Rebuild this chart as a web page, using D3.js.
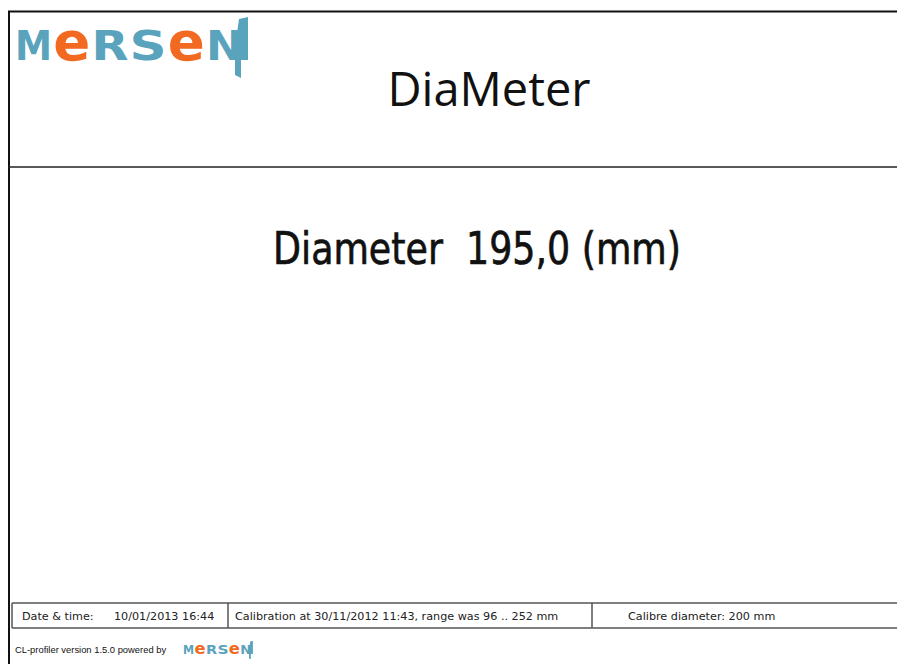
<!DOCTYPE html>
<html>
<head>
<meta charset="utf-8">
<script src="https://cdn.jsdelivr.net/npm/d3@7"></script>
<style>
    body { margin: 0; background: #fff; }
    svg { display: block; }
</style>
</head>
<body>
<div id="report"></div>
<script>
    // report content
    var reportTitle = ["DiaMeter"];
    var measureLabels = ["Diameter"];
    var measureValues = [195.0];
    var measureUnits = ["mm"];
    var infoLabels = ["Date & time:", "", ""];
    var infoValues = ["10/01/2013 16:44",
        "Calibration at 30/11/2012 11:43, range was 96 .. 252 mm",
        "Calibre diameter: 200 mm"];
    var footerText = ["CL-profiler version 1.5.0 powered by"];
    var logoLetters = ["M", "e", "R", "S", "e", "N"];
    var logoColors = ["#5aa3bd", "#f26a21", "#5aa3bd", "#5aa3bd", "#f26a21", "#5aa3bd"];

    var width = 897, height = 664;

    var svg = d3.select("#report").append("svg")
        .attr("width", width)
        .attr("height", height);

    // frame
    svg.append("line").attr("x1", 9).attr("x2", 9).attr("y1", 11).attr("y2", height)
        .attr("stroke", "#111").attr("stroke-width", 2);
    svg.append("line").attr("x1", 8).attr("x2", width).attr("y1", 11.5).attr("y2", 11.5)
        .attr("stroke", "#111").attr("stroke-width", 2);
    svg.append("line").attr("x1", 8).attr("x2", width).attr("y1", 167).attr("y2", 167)
        .attr("stroke", "#222").attr("stroke-width", 1.5);

    // logo, drawn in a 233 x 61 box
    var letterX = d3.scaleBand().domain(d3.range(logoLetters.length)).range([0, 228]).paddingInner(0.03);

    function drawLogo(g) {
        var cell = g.selectAll("g.letter")
            .data(logoLetters)
            .join("g")
            .attr("class", "letter");
        var txt = cell.append("text")
            .attr("x", 0)
            .attr("y", 0)
            .attr("text-anchor", "middle")
            .attr("font-family", "DejaVu Sans")
            .attr("font-weight", "bold")
            .attr("font-size", function(d) { return d === "e" ? 54 : 40; })
            .attr("fill", function(d, i) { return logoColors[i]; })
            .text(function(d) { return d; });
        txt.each(function(d, i) {
            var w = this.getComputedTextLength();
            var sx = (letterX.bandwidth()) / w;
            d3.select(this.parentNode).attr("transform",
                "translate(" + (letterX(i) + letterX.bandwidth() / 2) + ",43) scale(" + sx + ",1)");
        });
        // long stroke of the N
        g.append("path")
            .attr("d", "M224,2 L233,0 L233,43 L226,43 L226,61 L220,58 L220,30 Z")
            .attr("fill", logoColors[5]);
    }

    drawLogo(svg.append("g").attr("transform", "translate(15,17)"));

    svg.append("text")
        .attr("x", 489).attr("y", 106)
        .attr("text-anchor", "middle")
        .attr("font-family", "Open Sans")
        .attr("font-size", 47)
        .attr("fill", "#111")
        .text(reportTitle[0]);

    var fmt = function(v) { return d3.format(".1f")(v).replace(".", ","); };

    svg.append("text")
        .attr("x", 477).attr("y", 264)
        .attr("text-anchor", "middle")
        .attr("font-family", "DejaVu Sans")
        .attr("font-size", 44)
        .attr("textLength", 408)
        .attr("lengthAdjust", "spacingAndGlyphs")
        .attr("fill", "#111")
        .attr("stroke", "#111")
        .attr("stroke-width", 0.7)
        .attr("xml:space", "preserve")
        .text(measureLabels[0] + "  " + fmt(measureValues[0]) + " (" + measureUnits[0] + ")");

    // info table
    var cells = [12, 228, 592, width];
    var tableTop = 603, tableBottom = 628;
    var tbl = svg.append("g");
    tbl.append("line").attr("x1", cells[0]).attr("x2", width).attr("y1", tableTop).attr("y2", tableTop)
        .attr("stroke", "#555").attr("stroke-width", 1.5);
    tbl.append("line").attr("x1", cells[0]).attr("x2", width).attr("y1", tableBottom).attr("y2", tableBottom)
        .attr("stroke", "#555").attr("stroke-width", 1.5);
    tbl.selectAll("line.div")
        .data(cells.slice(0, 3))
        .join("line")
        .attr("class", "div")
        .attr("x1", function(d) { return d; }).attr("x2", function(d) { return d; })
        .attr("y1", tableTop).attr("y2", tableBottom)
        .attr("stroke", "#555").attr("stroke-width", 1.5);

    var labelX = [22, 0, 0];
    var valueX = [114, 235, 628];
    tbl.selectAll("text.lab")
        .data(infoLabels)
        .join("text")
        .attr("class", "lab")
        .attr("x", function(d, i) { return labelX[i]; })
        .attr("y", 620)
        .attr("font-family", "DejaVu Sans")
        .attr("font-size", 11.2)
        .attr("fill", "#222")
        .text(function(d) { return d; });
    tbl.selectAll("text.val")
        .data(infoValues)
        .join("text")
        .attr("class", "val")
        .attr("x", function(d, i) { return valueX[i]; })
        .attr("y", 620)
        .attr("font-family", "DejaVu Sans")
        .attr("font-size", 11.2)
        .attr("fill", "#222")
        .text(function(d) { return d; });

    // footer
    svg.append("text")
        .attr("x", 15).attr("y", 653)
        .attr("font-family", "Liberation Sans")
        .attr("font-size", 9.4)
        .attr("fill", "#111")
        .text(footerText[0]);

    drawLogo(svg.append("g").attr("transform", "translate(183,641) scale(0.3)"));
</script>
</body>
</html>
